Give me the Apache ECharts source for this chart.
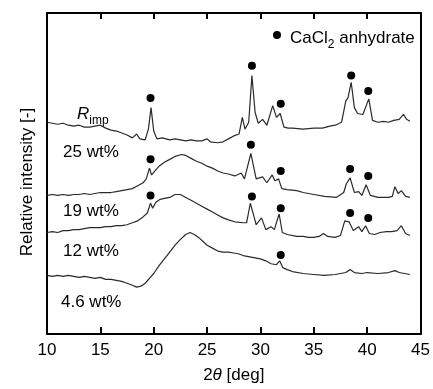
<!DOCTYPE html>
<html><head><meta charset="utf-8">
<script src="https://cdn.jsdelivr.net/npm/echarts@6/dist/echarts.min.js"></script>
<style>html,body{margin:0;padding:0;background:#fff}#c{width:433px;height:389px}</style>
</head><body><div id="c"></div>
<script>
// x: 2θ [deg]; y: relative intensity (arbitrary, offset traces)
const xTicks = [10, 15, 20, 25, 30, 35, 40, 45];

const s25 = [[10,217],[10.5,216],[11,215],[11.5,216],[12,214],[12.5,213],[13,214],[13.5,212],[14,212],[14.5,213],
[15,214],[15.5,211],[16,209],[16.5,208],[17,206],[17.5,204],[18,201],[18.4,205],[18.7,200],[19.2,199],
[19.5,210],[19.75,232],[20,208],[20.3,200],[20.8,201],[21.5,199],[22,200],[22.5,199],[23,198],[23.5,199],
[24,198],[24.5,198],[25,200],[25.3,197],[26,196],[26.5,197],[27,200],[27.5,203],[28,205],[28.3,222],
[28.55,210],[28.9,217],[29.2,265],[29.5,227],[29.8,216],[30.2,220],[30.6,214],[31.15,234],[31.5,222],[31.85,226],
[32.2,212],[32.6,211],[33,211],[34,210],[35,211],[35.8,211],[36.5,213],[37,214],[37.6,217],[38,239],
[38.2,242],[38.5,258],[38.8,232],[39.1,226],[39.6,225],[40.15,241],[40.5,219],[41,217],[41.5,218],[42,217],
[42.5,219],[43,220],[43.4,225],[43.7,220],[44,218]];

const s19 = [[10,142],[10.5,143],[11,142],[11.5,143],[12,142],[12.5,143],[13,143],[13.5,144],[14,143],[14.5,144],
[15,145],[15.5,145],[16,145],[16.5,146],[17,147],[17.5,148],[18,149],[18.5,152],[19,155],[19.3,159],
[19.6,170],[19.8,163],[20.1,167],[20.5,172],[21,176],[21.5,179],[22,182],[22.6,184],[23,183],[23.5,180],
[24,177],[24.5,175],[25,172],[25.5,170],[26,167],[26.5,165],[27,164],[27.6,162],[28.2,165],[28.5,159],
[29.1,185],[29.6,159],[30.2,161],[30.6,155],[31.1,163],[31.35,157],[31.7,159],[32,149],[32.5,148],[33.4,147],
[34,145],[35,143],[36,141],[37.1,140],[37.8,145],[38.05,154],[38.4,160],[38.8,145],[39.2,146],[39.5,142],
[39.9,153],[40.3,142],[41,140],[41.5,140],[42,140],[42.35,141],[42.6,151],[42.9,144],[43.2,147],[43.6,141],[44,140]];

const s12 = [[10,104],[10.5,105],[11,104],[11.5,106],[12,106],[12.5,107],[13,107],[13.5,108],[14,109],[14.5,109],
[15,109],[15.5,110],[16,110],[16.5,111],[17,111],[17.5,112],[18,114],[18.5,116],[19,120],[19.4,124],
[19.7,134],[19.9,129],[20.2,135],[20.6,138],[21,139],[21.5,140],[22,143],[22.5,143],[23,140],[23.5,137],
[24,134],[24.5,131],[25,128],[25.5,125],[26,122],[26.5,119],[27,117],[27.6,115],[28.4,114],[28.7,114],
[29.05,134],[29.4,120],[29.6,112],[30.1,119],[30.5,107],[31,110],[31.3,107],[31.75,123],[32.05,104],[32.5,102],
[33.4,100],[34,100],[34.5,99],[35,99],[35.5,100],[35.9,103],[36.3,100],[37,99],[37.5,101],[37.9,116],
[38.3,115],[38.7,106],[39.2,110],[39.5,105],[39.85,111],[40.2,103],[40.7,102],[41.2,104],[41.8,105],[42.3,105],
[42.8,106],[43.2,111],[43.6,103],[44,101]];

const s46 = [[10,60],[10.5,59],[11,60],[11.5,59],[12,60],[12.5,59],[13,58],[13.5,59],[14,58],[14.5,57],
[15,58],[15.5,56],[16,56],[16.5,55],[17,54],[17.5,52],[18,50],[18.4,48],[18.8,49],[19.2,52],
[19.6,57],[20,62],[20.5,70],[21,77],[21.5,84],[22,91],[22.5,97],[23,102],[23.4,104],[23.8,102],
[24.2,99],[24.6,95],[25,91],[25.5,88],[26,85],[26.5,84],[27,84],[27.5,83],[28,82],[28.5,80],
[29,79],[29.5,78],[30,77],[30.5,75],[31,72],[31.5,71],[31.8,75],[32.1,68],[32.5,66],[33,64],
[34,62],[35,61],[36,60],[37,61],[38,63],[38.4,66],[38.8,63],[39.5,62],[40,63],[41,62],
[42,63],[42.6,65],[43,63],[43.5,62],[44,61]];

// CaCl2 anhydrate peak markers
const dots25 = [[19.7,242],[29.2,275],[31.9,236],[38.5,265],[40.1,249]];
const dots19 = [[19.7,179],[29.1,194],[31.9,167],[38.4,169],[40.1,162]];
const dots12 = [[19.7,142],[29.2,141],[31.9,129],[38.4,124],[40.1,119]];
const dots46 = [[31.9,81]];

const sampleLabels = ['25 wt%', '19 wt%', '12 wt%', '4.6 wt%'];

const FF = '"Liberation Sans", Arial, sans-serif';
const chart = echarts.init(document.getElementById('c'));
const lineSeries = (d) => ({type:'line', data:d, showSymbol:false, symbol:'none',
  lineStyle:{color:'#2a2a2a', width:1.2}, z:2, animation:false});
const axisBase = {type:'value', min:10, max:45, interval:5, splitLine:{show:false},
  axisLine:{show:true, onZero:false, lineStyle:{color:'#000', width:2}}};

chart.setOption({
  animation:false,
  grid:{left:47, right:8, top:13, bottom:47},
  xAxis:[
    Object.assign({}, axisBase, {position:'bottom',
      axisTick:{show:true, inside:true, length:7, lineStyle:{color:'#000', width:2}},
      axisLabel:{fontSize:17, color:'#000', margin:8, fontFamily:FF,
        formatter:(v)=> xTicks.includes(v) ? String(v) : ''},
      name:'2{i|θ} [deg]', nameLocation:'middle', nameGap:33,
      nameTextStyle:{fontSize:17, color:'#000', fontFamily:FF,
        rich:{i:{fontSize:17, fontStyle:'italic', color:'#000', fontFamily:FF}}}}),
    Object.assign({}, axisBase, {position:'top',
      axisTick:{show:true, inside:true, length:6, lineStyle:{color:'#000', width:2}},
      axisLabel:{show:false}})
  ],
  yAxis:[
    {type:'value', min:0, max:329, position:'left', splitLine:{show:false},
      axisLine:{show:true, onZero:false, lineStyle:{color:'#000', width:2}},
      axisTick:{show:false}, axisLabel:{show:false}},
    {type:'value', min:0, max:329, position:'right', splitLine:{show:false},
      axisLine:{show:true, onZero:false, lineStyle:{color:'#000', width:2}},
      axisTick:{show:false}, axisLabel:{show:false}}
  ],
  series:[
    lineSeries(s25), lineSeries(s19), lineSeries(s12), lineSeries(s46),
    {type:'scatter', name:'CaCl₂ anhydrate', data:dots25.concat(dots19, dots12, dots46),
      symbol:'circle', symbolSize:8, itemStyle:{color:'#000', opacity:1}, z:3, animation:false}
  ],
  graphic:[
    {type:'text', x:27, y:182, rotation:Math.PI/2,
      style:{text:'Relative intensity [-]', font:'17px '+FF, fill:'#000', align:'center', verticalAlign:'middle'}},
    {type:'circle', shape:{cx:277, cy:35, r:4}, style:{fill:'#000'}},
    {type:'text', x:290, y:34,
      style:{text:'{m|CaCl}{s|2}{m| anhydrate}', fill:'#000', align:'left', verticalAlign:'top',
        rich:{m:{fontSize:17, fontFamily:FF, lineHeight:17, padding:[0,0,4,0], verticalAlign:'bottom', fill:'#000'},
              s:{fontSize:12, fontFamily:FF, lineHeight:12, verticalAlign:'bottom', fill:'#000'}}}},
    {type:'text', x:77, y:110,
      style:{text:'{m|R}{s|imp}', fill:'#000', align:'left', verticalAlign:'top',
        rich:{m:{fontSize:17, fontFamily:FF, fontStyle:'italic', lineHeight:17, padding:[0,0,4,0], verticalAlign:'bottom', fill:'#000'},
              s:{fontSize:12, fontFamily:FF, lineHeight:12, verticalAlign:'bottom', fill:'#000'}}}},
    {type:'text', x:63, y:152, style:{text:sampleLabels[0], font:'17px '+FF, fill:'#000', verticalAlign:'middle'}},
    {type:'text', x:63, y:211, style:{text:sampleLabels[1], font:'17px '+FF, fill:'#000', verticalAlign:'middle'}},
    {type:'text', x:63, y:251, style:{text:sampleLabels[2], font:'17px '+FF, fill:'#000', verticalAlign:'middle'}},
    {type:'text', x:61, y:302, style:{text:sampleLabels[3], font:'17px '+FF, fill:'#000', verticalAlign:'middle'}}
  ]
});
</script>
</body></html>
